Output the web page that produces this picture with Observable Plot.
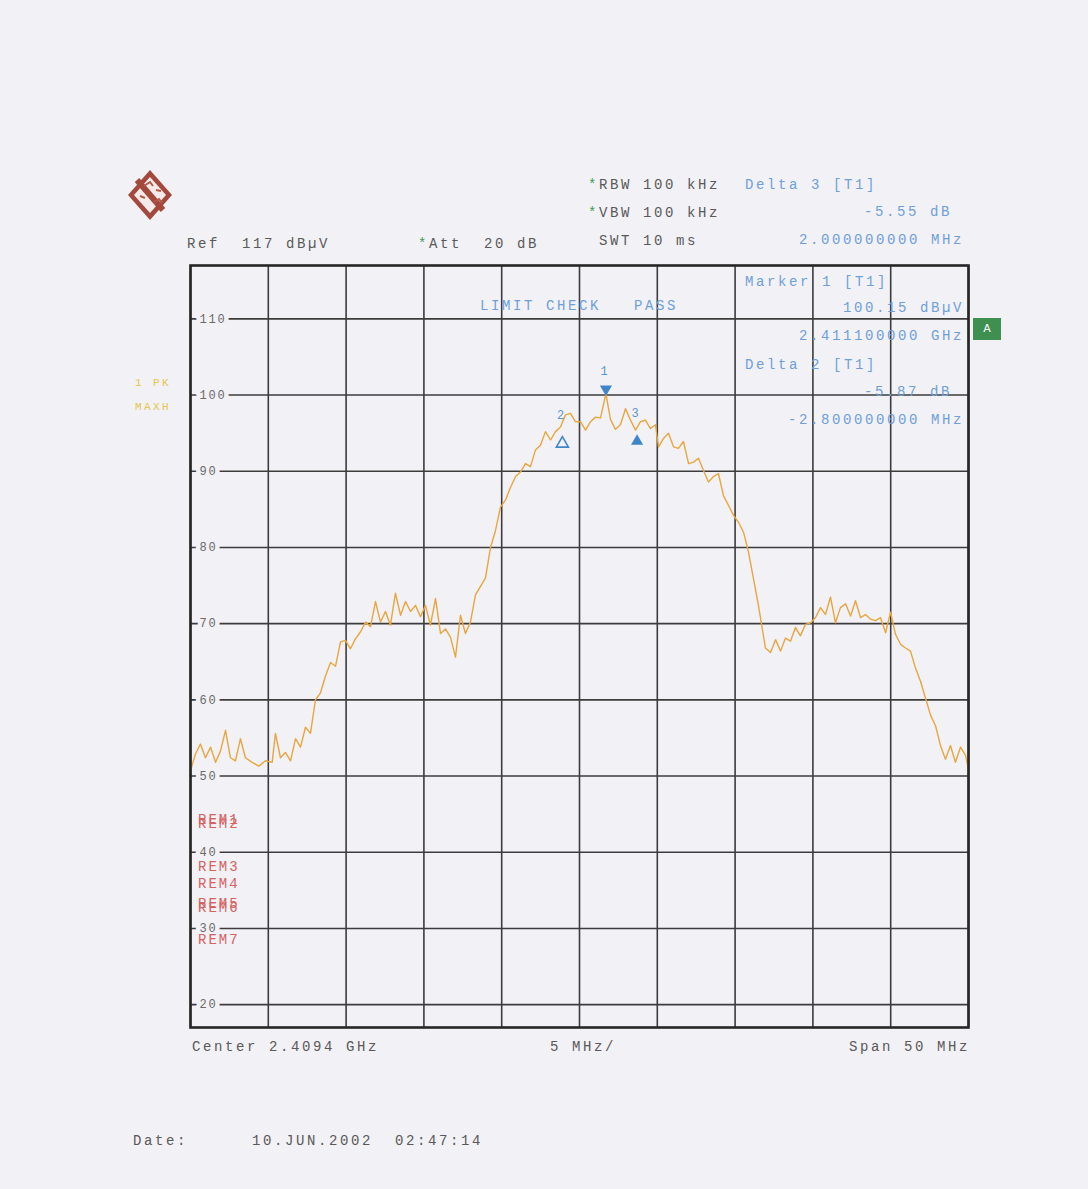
<!DOCTYPE html>
<html><head><meta charset="utf-8">
<script src="https://cdn.jsdelivr.net/npm/d3@7"></script>
<script src="https://cdn.jsdelivr.net/npm/@observablehq/plot@0.6"></script>
<style>
html,body{margin:0;padding:0;background:#f2f1f6;}
#page{position:relative;width:1088px;height:1189px;overflow:hidden;background:#f2f1f6;font-family:"Liberation Mono","DejaVu Sans Mono",monospace;}
.t{position:absolute;font-size:14px;line-height:14px;letter-spacing:2.6px;white-space:pre;color:#595959;}
.rt{text-align:right;}
.b{color:#6f9fd8;}
.r{color:#d4625e;letter-spacing:2px;}
.y{color:#e3c74a;font-size:11px;letter-spacing:2.4px;}
.g{color:#3f9a5c;}
#chart{position:absolute;left:0;top:0;}
#chart svg text{letter-spacing:1.8px;}
#badge{position:absolute;left:973px;top:318px;width:28px;height:22px;background:#3f8f50;color:#fff;font:11px "DejaVu Sans",sans-serif;line-height:22px;text-align:center;}
#logo{position:absolute;left:126px;top:168px;}
</style></head>
<body><div id="page">
<div id="chart"></div>
<svg id="logo" width="48" height="54" viewBox="0 0 48 54">
  <polygon points="24,2 46,27 24,52 2,27" fill="#a3483c"/>
  <polygon points="24,9 40,27 24,45 8,27" fill="#f4eaea"/>
  <line x1="11" y1="12" x2="37" y2="42" stroke="#a3483c" stroke-width="6"/>
  <path d="M18,18 l6,-4 l3,4 M28,34 l5,-3 l3,4 M14,28 l5,2 M30,22 l5,1" fill="none" stroke="#b35a4c" stroke-width="2"/>
</svg>
<div id="texts"></div>
<div id="badge">A</div>
</div>
<script>
// ---- instrument settings / annotations ----
const centerMHz = 2409.4;
const spanMHz = 50;
const refLevel = 117;
const bottomLevel = 17;
const xGridOffsets = [0, 5, 10, 15, 20, 25, 30, 35, 40, 45, 50];
const yTickLabels = [110, 100, 90, 80, 70, 60, 50, 40, 30, 20];

// ---- trace: offset from left edge of span (MHz) and level (dBµV) ----
const traceOffset = [
  0.00,0.32,0.64,0.96,1.29,1.61,1.93,2.25,2.57,2.89,3.21,3.53,3.96,4.39,4.82,5.25,5.46,5.78,6.10,6.43,
  6.75,7.07,7.39,7.71,8.03,8.35,8.67,9.00,9.32,9.64,9.96,10.28,10.60,10.92,11.25,11.57,11.89,12.21,12.53,12.85,
  13.17,13.50,13.82,14.14,14.46,14.78,15.10,15.42,15.75,16.07,16.39,16.71,17.03,17.35,17.67,17.99,18.32,18.64,18.96,
  19.28,19.60,19.92,20.24,20.57,20.89,21.21,21.53,21.85,22.17,22.49,22.81,23.14,23.46,23.78,24.10,24.42,24.74,25.06,25.39,
  25.71,26.03,26.35,26.70,26.99,27.31,27.63,27.96,28.28,28.60,28.92,29.24,29.56,29.88,30.08,30.40,30.72,31.04,31.36,31.68,
  32.01,32.33,32.65,32.97,33.29,33.61,33.93,34.25,34.58,34.90,35.22,35.54,35.86,36.18,36.50,
  36.95,37.28,37.60,37.92,38.24,38.56,38.88,39.20,39.52,39.85,40.17,40.49,40.81,41.13,41.45,41.77,42.10,42.42,42.74,43.06,
  43.38,43.70,44.02,44.34,44.67,44.99,45.31,45.63,45.95,46.27,46.59,46.92,47.24,47.56,47.88,48.20,48.52,48.84,49.16,49.49,49.81,50.00
];
const traceLevel = [
  50.7,52.9,54.2,52.4,53.8,51.8,53.3,56.0,52.4,52.0,54.9,52.4,51.8,51.3,52.0,51.8,55.6,52.4,53.1,52.0,
  54.9,53.8,56.4,55.6,60.0,60.9,63.1,64.9,64.4,67.6,67.8,66.7,68.0,68.9,70.2,69.6,72.9,70.2,71.6,69.8,
  74.0,71.1,72.9,71.6,72.4,70.9,72.4,69.8,73.3,68.7,69.3,68.2,65.6,71.1,68.7,70.2,73.8,74.9,76.0,
  80.0,82.2,85.3,86.2,87.9,89.3,89.9,91.0,90.6,92.8,93.4,95.2,94.1,95.2,95.8,97.4,97.6,96.5,96.5,95.4,
  96.5,97.1,97.0,100.15,96.8,95.5,96.1,98.2,96.7,95.4,96.5,96.7,95.6,96.1,93.2,94.3,95.0,93.2,93.0,93.9,
  91.0,91.2,91.7,90.1,88.6,89.3,89.7,86.8,85.5,84.2,83.3,82.0,79.4,75.9,72.4,
  66.8,66.2,67.9,66.4,68.1,67.7,69.5,68.4,69.9,70.1,70.8,72.1,71.2,73.5,70.1,72.1,72.6,71.0,73.0,70.8,
  71.2,70.6,70.4,70.8,68.8,71.5,68.6,67.3,66.8,66.4,64.2,62.4,60.2,58.0,56.6,54.0,52.2,54.0,51.8,53.8,52.7,50.9
];

// ---- markers ----
const markerIds = ["1", "2", "3"];
const markerFreqMHz = [2411.1, 2411.1 - 2.8, 2411.1 + 2.0];
const markerLevel = [100.15, 100.15 - 5.87, 100.15 - 5.55];
const markerKind = ["normal", "delta-open", "delta-filled"];

const startMHz = centerMHz - spanMHz / 2;
const trace = traceOffset.map((o, i) => ({f: startMHz + o, db: traceLevel[i]}));
const markers = markerIds.map((id, i) => ({id, f: markerFreqMHz[i], db: markerLevel[i], kind: markerKind[i]}));
const bg = "#f2f1f6";
const blue = "#3f86c8";

const plot = Plot.plot({
  width: 1088, height: 1189,
  marginLeft: 190, marginRight: 120, marginTop: 265, marginBottom: 162,
  x: {domain: [startMHz, startMHz + spanMHz], axis: null},
  y: {domain: [bottomLevel, refLevel], axis: null},
  style: {background: "transparent", fontFamily: "Liberation Mono, DejaVu Sans Mono, monospace"},
  marks: [
    Plot.ruleX(xGridOffsets, {x: d => startMHz + d, stroke: "#3c3c3c", strokeWidth: 1.6}),
    Plot.ruleY(yTickLabels, {stroke: "#3c3c3c", strokeWidth: 1.6}),
    Plot.text(yTickLabels, {y: d => d, text: d => String(d), frameAnchor: "left", dx: 9, textAnchor: "start",
      fill: "#6a6a6a", stroke: bg, strokeWidth: 9, strokeLinejoin: "round", fontSize: 12}),
    Plot.line(trace, {x: "f", y: "db", stroke: "#e8a63f", strokeWidth: 1.4}),
    Plot.dot(markers.filter(m => m.kind === "normal"), {x: "f", y: "db", symbol: "triangle", rotate: 180, r: 4.5, fill: blue, dy: -5}),
    Plot.dot(markers.filter(m => m.kind === "delta-open"), {x: "f", y: "db", symbol: "triangle", r: 4.5, fill: "none", stroke: blue, strokeWidth: 1.6, dy: 5}),
    Plot.dot(markers.filter(m => m.kind === "delta-filled"), {x: "f", y: "db", symbol: "triangle", r: 4.5, fill: blue, dy: 5}),
    Plot.text(markers, {x: "f", y: "db", text: "id", dy: -23, dx: -1, fill: "#5b95d0", fontSize: 12}),
    Plot.frame({stroke: "#262626", strokeWidth: 2.6})
  ]
});
document.getElementById("chart").appendChild(plot);

// ---- header / footer annotations ----
const labels = [
  {t: "Ref  117 dBµV", x: 187, y: 243},
  {t: "<span class='g'>*</span>Att  20 dB", x: 418, y: 243},
  {t: "<span class='g'>*</span>RBW 100 kHz", x: 588, y: 184},
  {t: "<span class='g'>*</span>VBW 100 kHz", x: 588, y: 212},
  {t: " SWT 10 ms", x: 588, y: 240},
  {t: "Delta 3 [T1]", x: 745, y: 184, c: "b"},
  {t: "-5.55 dB", r: 952, y: 211, c: "b"},
  {t: "2.000000000 MHz", r: 964, y: 239, c: "b"},
  {t: "Marker 1 [T1]", x: 745, y: 281, c: "b"},
  {t: "100.15 dBµV", r: 964, y: 307, c: "b"},
  {t: "2.411100000 GHz", r: 964, y: 335, c: "b"},
  {t: "Delta 2 [T1]", x: 745, y: 364, c: "b"},
  {t: "-5.87 dB", r: 952, y: 391, c: "b"},
  {t: "-2.800000000 MHz", r: 964, y: 419, c: "b"},
  {t: "LIMIT CHECK   PASS", x: 480, y: 305, c: "b"},
  {t: "Center 2.4094 GHz", x: 192, y: 1046},
  {t: "5 MHz/", x: 550, y: 1046},
  {t: "Span 50 MHz", r: 970, y: 1046},
  {t: "Date:", x: 133, y: 1140},
  {t: "10.JUN.2002  02:47:14", x: 252, y: 1140},
  {t: "REM1", x: 198, y: 819, c: "r"},
  {t: "REM2", x: 198, y: 823, c: "r"},
  {t: "REM3", x: 198, y: 866, c: "r"},
  {t: "REM4", x: 198, y: 883, c: "r"},
  {t: "REM5", x: 198, y: 903, c: "r"},
  {t: "REM6", x: 198, y: 907, c: "r"},
  {t: "REM7", x: 198, y: 939, c: "r"},
  {t: "1 PK", x: 135, y: 381, c: "y"},
  {t: "MAXH", x: 135, y: 405, c: "y"}
];
const host = document.getElementById("texts");
for (const l of labels) {
  const d = document.createElement("div");
  d.className = "t" + (l.c ? " " + l.c : "") + (l.r ? " rt" : "");
  d.innerHTML = l.t;
  const fs = l.c === "y" ? 11 : 14;
  d.style.top = (l.y - Math.round(fs * 0.45)) + "px";
  if (l.r) d.style.right = (1088 - l.r) + "px"; else d.style.left = l.x + "px";
  host.appendChild(d);
}
</script>
</body></html>
